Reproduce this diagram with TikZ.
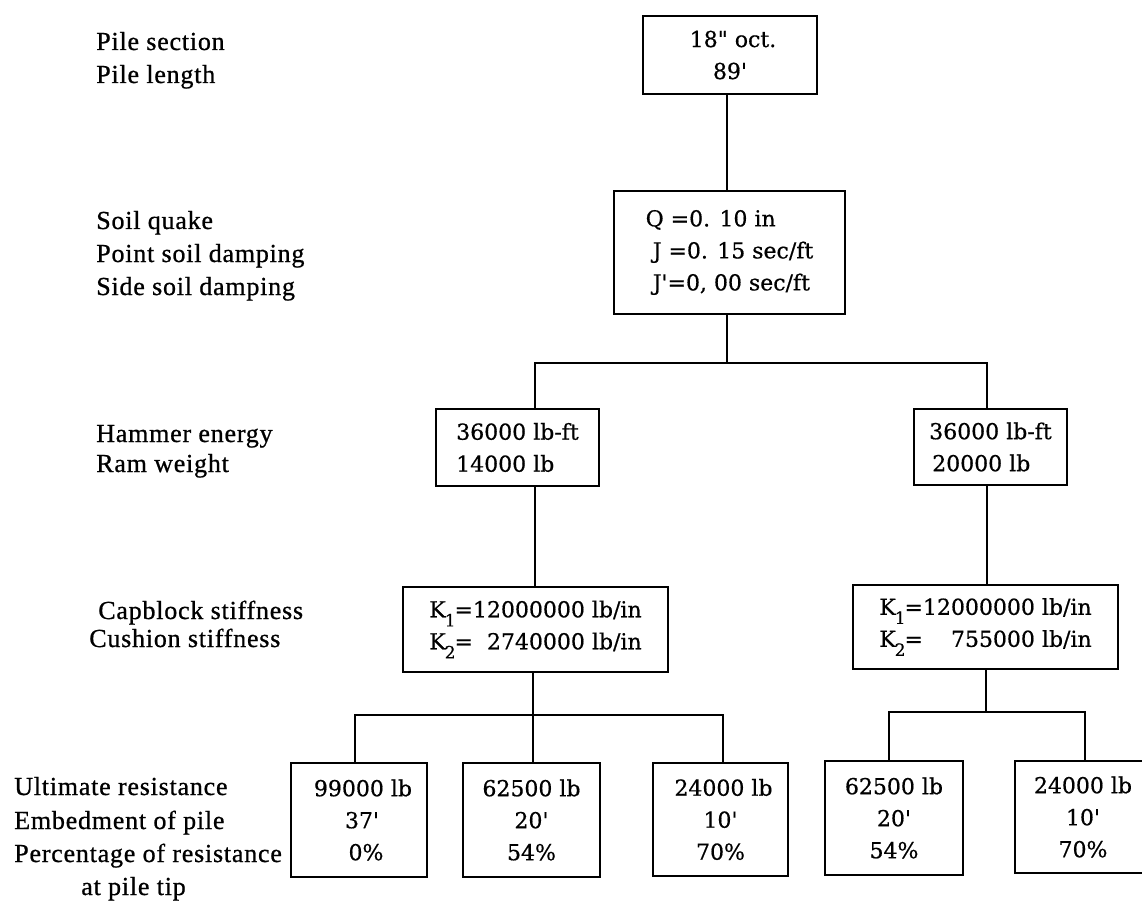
\documentclass[tikz,border=0pt]{standalone}
\usepackage{fontspec}
\setmainfont{DejaVu Serif}[Ligatures=TeXOff,FakeBold=0.6]
\newfontfamily\labfont{Liberation Serif}[Ligatures=TeXOff,FakeBold=0.8,LetterSpace=3]
\newcommand\bxf{\fontsize{22}{32}\selectfont}
\newcommand\lbf{\labfont\fontsize{26}{32}\selectfont}
\newcommand\sbs[1]{\kern-1pt\raisebox{-0.8ex}{\fontsize{17}{17}\selectfont #1}\kern-1pt}
\begin{document}
\begin{tikzpicture}[x=1pt,y=-1pt,line width=2.6pt,
  box/.style={draw,line width=2.6pt,inner sep=0pt,align=center,font=\bxf},
  lbox/.style={box,align=left},
  lab/.style={anchor=base west,inner sep=0pt,font=\lbf},
  wire/.style={draw,line width=2.6pt}]
\useasboundingbox (0,0) rectangle (1142,901);
% labels
\node[lab] (l1) at (95,50) {Pile section};
\node[lab] (l2) at (95,83) {Pile length};
\node[lab] (l3) at (95,229) {Soil quake};
\node[lab] (l4) at (95,262) {Point soil damping};
\node[lab] (l5) at (95,295) {Side soil damping};
\node[lab] (l6) at (95,442) {Hammer energy};
\node[lab] (l7) at (95,472) {Ram weight};
\node[lab] (l8) at (97,619) {Capblock stiffness};
\node[lab] (l9) at (88,647) {Cushion stiffness};
\node[lab] (l10) at (13,795) {Ultimate resistance};
\node[lab] (l11) at (13,829) {Embedment of pile};
\node[lab] (l12) at (13,862) {Percentage of resistance};
\node[lab] (l13) at (80,895) {at pile tip};
% boxes
\node[box,minimum width=174pt,minimum height=78pt] (top) at (730,55) {\hspace*{6pt}18" oct.\\89'};
\node[lbox,minimum width=231pt,minimum height=123pt] (soil) at (729.5,252.5)
  {Q =0. 10 in\\\hspace*{7pt}J =0. 15 sec/ft\\\hspace*{7pt}J'=0, 00 sec/ft};
\node[lbox,minimum width=163pt,minimum height=77pt] (hamL) at (517.5,447.5) {36000 lb-ft\\14000 lb};
\node[lbox,minimum width=153pt,minimum height=76pt] (hamR) at (990.5,447) {36000 lb-ft\\\hspace*{3pt}20000 lb};
\node[lbox,minimum width=265pt,minimum height=85pt] (capL) at (535.5,629.5)
  {K\sbs{1}=12000000 lb/in\\K\sbs{2}=\hphantom{0}2740000 lb/in};
\node[lbox,minimum width=265pt,minimum height=84pt] (capR) at (985.5,627)
  {K\sbs{1}=12000000 lb/in\\K\sbs{2}=\hphantom{00}755000 lb/in};
\node[box,minimum width=136pt,minimum height=114pt] (b1) at (359,820) {\hspace*{8pt}99000 lb\\\hspace*{6pt}37'\\\hspace*{14pt}0\%};
\node[box,minimum width=137pt,minimum height=114pt] (b2) at (531.5,820) {62500 lb\\20'\\54\%};
\node[box,minimum width=135pt,minimum height=113pt] (b3) at (720.5,819.5) {\hspace*{6pt}24000 lb\\10'\\70\%};
\node[box,minimum width=138pt,minimum height=114pt] (b4) at (894,818) {62500 lb\\20'\\54\%};
\node[box,minimum width=136pt,minimum height=112pt] (b5) at (1083,817) {24000 lb\\10'\\70\%};
% junctions
\coordinate (j1) at (727,363);
\coordinate (aL) at (535,363);
\coordinate (aR) at (987,363);
\coordinate (j2) at (533,715);
\coordinate (cL) at (355,715);
\coordinate (cR) at (723,715);
\coordinate (j3) at (986,712);
\coordinate (dL) at (889,712);
\coordinate (dR) at (1085,712);
% connectors
\draw[wire] (top.south -| j1) -- (soil.north -| j1);
\draw[wire] (soil.south -| j1) -- (j1);
\draw[wire] (hamL.north -| aL) -- (aL) -- (aR) -- (hamR.north -| aR);
\draw[wire] (hamL.south -| aL) -- (capL.north -| aL);
\draw[wire] (hamR.south -| aR) -- (capR.north -| aR);
\draw[wire] (capL.south -| j2) -- (b2.north -| j2);
\draw[wire] (b1.north -| cL) -- (cL) -- (cR) -- (b3.north -| cR);
\draw[wire] (capR.south -| j3) -- (j3);
\draw[wire] (b4.north -| dL) -- (dL) -- (dR) -- (b5.north -| dR);
\end{tikzpicture}
\end{document}
